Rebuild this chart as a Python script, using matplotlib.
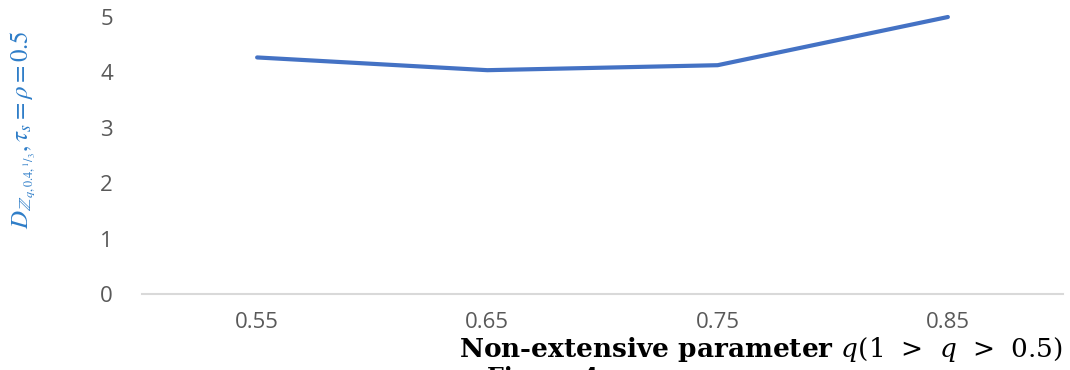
import matplotlib.pyplot as plt

q_labels = ['0.55', '0.65', '0.75', '0.85']
d_values = [4.27, 4.04, 4.13, 5.0]

plt.rcParams['mathtext.fontset'] = 'stix'

fig = plt.figure(figsize=(10.7, 3.7), dpi=100)
ax = fig.add_axes([142 / 1070, 76 / 370, 921 / 1070, 277 / 370])

x = range(len(q_labels))
ax.plot(x, d_values, color='#4472C4', linewidth=3.0,
        solid_capstyle='round', clip_on=False)

ax.set_xlim(-0.5, len(q_labels) - 0.5)
ax.set_ylim(0, 5)
ax.set_xticks(list(x))
ax.set_xticklabels(q_labels)
ax.set_yticks(range(6))

# only the baseline at y=0 is kept, in light grey
for side in ['top', 'right', 'left']:
    ax.spines[side].set_visible(False)
ax.spines['bottom'].set_color('#D9D9D9')
ax.spines['bottom'].set_linewidth(1.5)
ax.tick_params(length=0, labelsize=16, labelcolor='#595959')
ax.tick_params(axis='x', pad=13)
ax.tick_params(axis='y', pad=21)
for lbl in ax.get_xticklabels() + ax.get_yticklabels():
    lbl.set_fontfamily('Open Sans')

fig.text(0.022, 0.65,
         r'$D_{\mathbb{Z}_{q,0.4,{}^{1}/_{3}}},\tau_s=\rho=0.5$',
         rotation=90, ha='center', va='center', color='#2E7DC8',
         fontsize=18)

fig.text(1063 / 1070, 20 / 370,
         r'Non-extensive parameter $q(1\;\, >\;\, q\;\, >\;\, 0.5)$',
         ha='right', va='center', fontsize=19, fontweight='bold',
         family='DejaVu Serif', math_fontfamily='dejavuserif')
fig.text(487 / 1070, 4 / 370, 'Figure 4', ha='left', va='top',
         fontsize=17, fontweight='bold', family='DejaVu Serif')

fig.savefig('out.png', dpi=100)
